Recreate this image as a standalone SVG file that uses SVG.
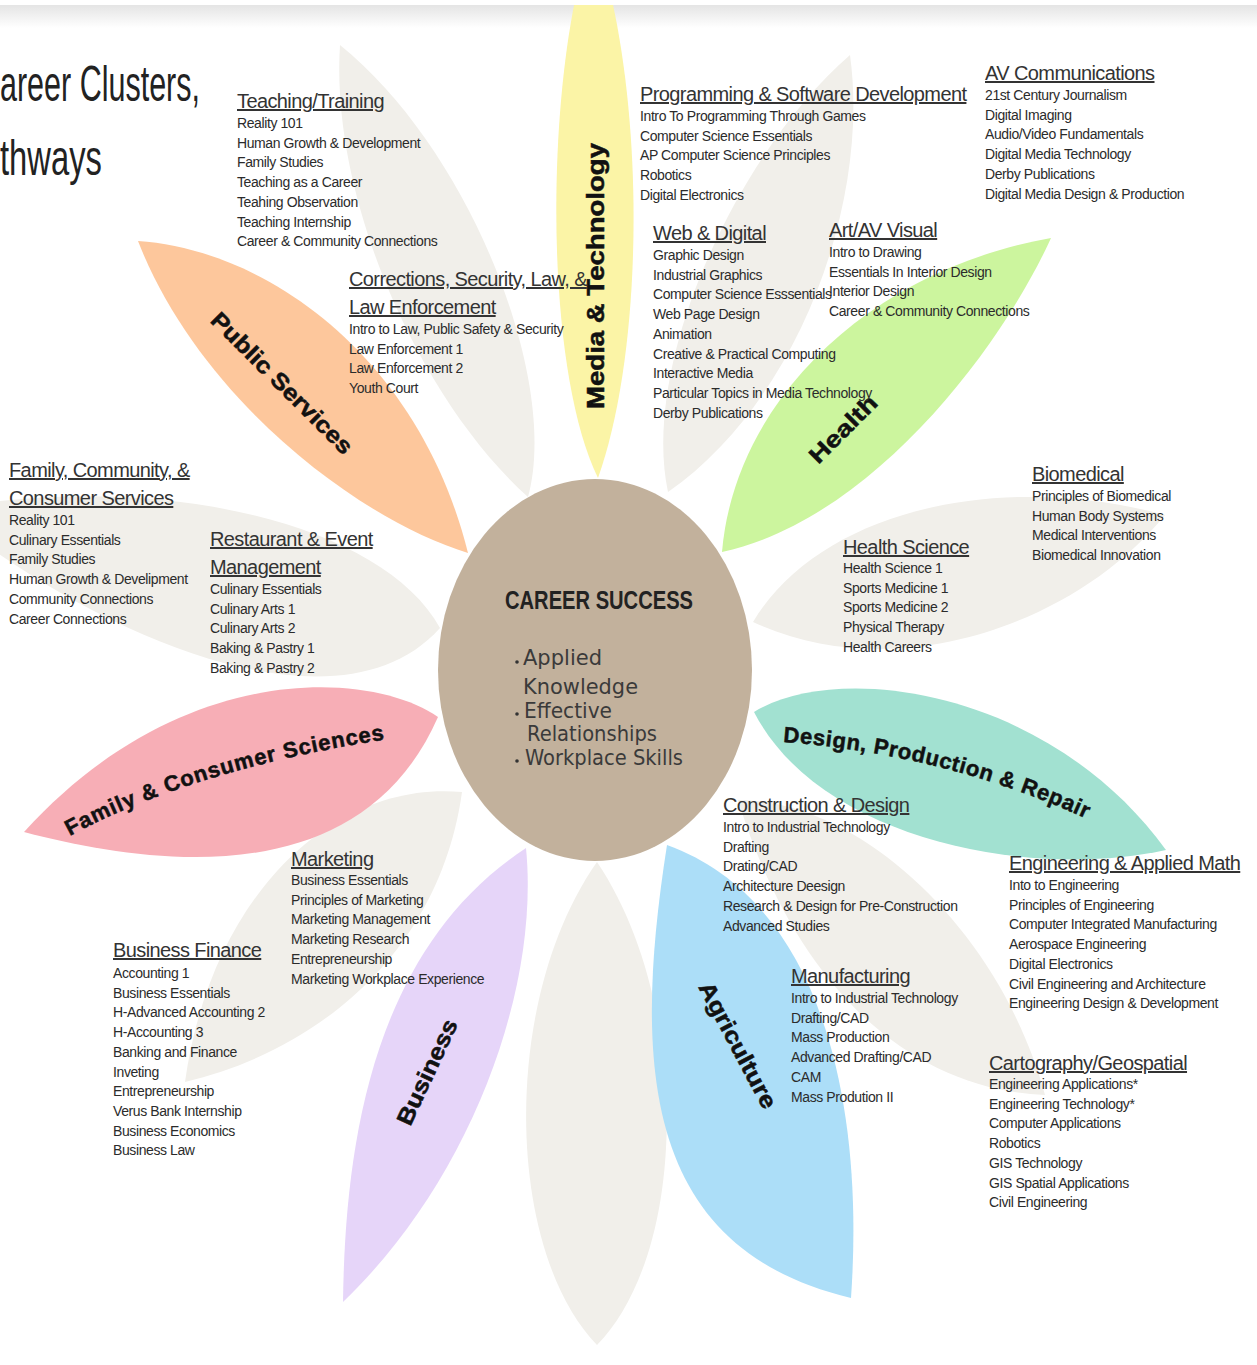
<svg xmlns="http://www.w3.org/2000/svg" width="1257" height="1365" viewBox="0 0 1257 1365">
<defs>
<linearGradient id="topg" x1="0" y1="0" x2="0" y2="1">
<stop offset="0" stop-color="#e3e3e3"/>
<stop offset="1" stop-color="#ffffff"/>
</linearGradient>
<path id="pFam" d="M70,836 Q195,768 395,738"/>
<path id="pDes" d="M783,742 Q955,755 1102,826"/>
<style>
.g{fill:#f1efea}
.h{font-family:"Liberation Sans",Arial,sans-serif;font-size:20px;letter-spacing:-0.6px;fill:#333;text-decoration:underline}
.i{font-family:"Liberation Sans",Arial,sans-serif;font-size:14px;letter-spacing:-0.4px;fill:#2b2b2b}
.lab{font-family:"Liberation Sans",Arial,sans-serif;font-size:23px;font-weight:bold;fill:#111;stroke:#111;stroke-width:0.5}
.ct{font-family:"DejaVu Sans","Liberation Sans",sans-serif;font-size:22px;fill:#3a3a3a}
.title{font-family:"Liberation Sans",Arial,sans-serif;font-size:50px;fill:#222}
</style>
</defs>
<rect width="1257" height="1365" fill="#ffffff"/>
<rect x="0" y="4" width="1257" height="24" fill="url(#topg)"/>

<g id="petals">
<path id="gray-top-left" class="g" d="M340,45 C330,200 420,400 528,497 C560,380 470,150 340,45 Z"/>
<path id="gray-top-right" class="g" d="M668,492 C640,360 740,150 850,55 C870,200 800,400 668,492 Z"/>
<path id="gray-right" class="g" d="M753,622 C820,510 1000,470 1165,515 C1080,620 900,690 753,622 Z"/>
<path id="gray-lower-right" class="g" d="M738,800 C860,800 1000,930 1045,1095 C920,1090 800,1000 738,800 Z"/>
<path id="gray-bottom" class="g" d="M597,862 C500,1000 505,1250 597,1345 C690,1250 690,1000 597,862 Z"/>
<path id="gray-lower-left" class="g" d="M462,792 C330,780 210,900 185,1082 C320,1050 440,950 462,792 Z"/>
<path id="gray-left" class="g" d="M440,628 C380,520 150,470 -60,510 C100,640 340,740 440,628 Z"/>
<path id="petal-media" fill="#fbf4a6" d="M598,478 C550,380 545,150 575,0 L612,0 C645,150 640,360 598,478 Z"/>
<path id="petal-public" fill="#fdc79c" d="M138,241 C270,250 420,360 468,553 C360,520 200,400 138,241 Z"/>
<path id="petal-health" fill="#ccf59e" d="M722,552 C735,400 870,270 1051,238 C1000,350 870,520 722,552 Z"/>
<path id="petal-design" fill="#a2e1d1" d="M754,712 C840,660 1050,690 1166,850 C1030,880 820,840 754,712 Z"/>
<path id="petal-agri" fill="#acdef8" d="M667,845 C630,1080 650,1250 851,1298 C865,1100 820,900 667,845 Z"/>
<path id="petal-business" fill="#e6d5f9" d="M526,848 C540,990 470,1180 343,1302 C345,1150 370,950 526,848 Z"/>
<path id="petal-family" fill="#f7aeb6" d="M438,717 C370,670 180,660 24,832 C150,865 360,895 438,717 Z"/>
</g>

<g id="center">
<ellipse cx="595" cy="670" rx="157" ry="191" fill="#c2b19c"/>
<text x="505" y="609" font-family="'Liberation Sans',Arial,sans-serif" font-size="25" font-weight="bold" fill="#222" textLength="188" lengthAdjust="spacingAndGlyphs">CAREER SUCCESS</text>
<circle cx="517" cy="662" r="1.8" fill="#333"/>
<circle cx="517" cy="714" r="1.8" fill="#333"/>
<circle cx="517" cy="761" r="1.8" fill="#333"/>
<text class="ct" x="523" y="665" textLength="79" lengthAdjust="spacingAndGlyphs">Applied</text>
<text class="ct" x="523" y="694" textLength="115" lengthAdjust="spacingAndGlyphs">Knowledge</text>
<text class="ct" x="524" y="718" textLength="88" lengthAdjust="spacingAndGlyphs">Effective</text>
<text class="ct" x="527" y="741" textLength="130" lengthAdjust="spacingAndGlyphs">Relationships</text>
<text class="ct" x="525" y="765" textLength="158" lengthAdjust="spacingAndGlyphs">Workplace Skills</text>
</g>

<g id="petal-labels">
<text class="lab" transform="translate(596,276) rotate(-90)" x="0" y="8" text-anchor="middle" textLength="266" lengthAdjust="spacingAndGlyphs">Media &amp; Technology</text>
<text class="lab" transform="translate(282,383) rotate(45)" x="0" y="8" text-anchor="middle" textLength="190" lengthAdjust="spacingAndGlyphs">Public Services</text>
<text class="lab" transform="translate(843,429) rotate(-45)" x="0" y="8" text-anchor="middle" textLength="86" lengthAdjust="spacingAndGlyphs">Health</text>
<text class="lab" transform="translate(738,1045) rotate(62)" x="0" y="8" text-anchor="middle" textLength="140" lengthAdjust="spacingAndGlyphs">Agriculture</text>
<text class="lab" transform="translate(427,1072) rotate(-65)" x="0" y="8" text-anchor="middle" textLength="114" lengthAdjust="spacingAndGlyphs">Business</text>
<text class="lab" style="font-size:22px;letter-spacing:0.9px"><textPath href="#pFam">Family &amp; Consumer Sciences</textPath></text>
<text class="lab" style="font-size:22px;letter-spacing:0.6px"><textPath href="#pDes">Design, Production &amp; Repair</textPath></text>
</g>

<g id="title">
<text class="title" transform="translate(0,101) scale(0.61,1)" x="0" y="0">areer Clusters,</text>
<text class="title" transform="translate(0,175) scale(0.655,1)" x="0" y="0">thways</text>
</g>

<g id="teaching-training">
<text class="h" x="237" y="108">Teaching/Training</text>
<text class="i" x="237" y="128"><tspan x="237" dy="0">Reality 101</tspan><tspan x="237" dy="19.7">Human Growth &amp; Development</tspan><tspan x="237" dy="19.7">Family Studies</tspan><tspan x="237" dy="19.7">Teaching as a Career</tspan><tspan x="237" dy="19.7">Teahing Observation</tspan><tspan x="237" dy="19.7">Teaching Internship</tspan><tspan x="237" dy="19.7">Career &amp; Community Connections</tspan></text>
</g>

<g id="corrections">
<text class="h" x="349" y="286">Corrections, Security, Law, &amp;</text>
<text class="h" x="349" y="314">Law Enforcement</text>
<text class="i" x="349" y="334"><tspan x="349" dy="0">Intro to Law, Public Safety &amp; Security</tspan><tspan x="349" dy="19.7">Law Enforcement 1</tspan><tspan x="349" dy="19.7">Law Enforcement 2</tspan><tspan x="349" dy="19.7">Youth Court</tspan></text>
</g>

<g id="programming">
<text class="h" x="640" y="101">Programming &amp; Software Development</text>
<text class="i" x="640" y="121"><tspan x="640" dy="0">Intro To Programming Through Games</tspan><tspan x="640" dy="19.7">Computer Science Essentials</tspan><tspan x="640" dy="19.7">AP Computer Science Principles</tspan><tspan x="640" dy="19.7">Robotics</tspan><tspan x="640" dy="19.7">Digital Electronics</tspan></text>
</g>

<g id="av-communications">
<text class="h" x="985" y="80">AV Communications</text>
<text class="i" x="985" y="100"><tspan x="985" dy="0">21st Century Journalism</tspan><tspan x="985" dy="19.7">Digital Imaging</tspan><tspan x="985" dy="19.7">Audio/Video Fundamentals</tspan><tspan x="985" dy="19.7">Digital Media Technology</tspan><tspan x="985" dy="19.7">Derby Publications</tspan><tspan x="985" dy="19.7">Digital Media Design &amp; Production</tspan></text>
</g>

<g id="web-digital">
<text class="h" x="653" y="240">Web &amp; Digital</text>
<text class="i" x="653" y="260"><tspan x="653" dy="0">Graphic Design</tspan><tspan x="653" dy="19.7">Industrial Graphics</tspan><tspan x="653" dy="19.7">Computer Science Esssentials</tspan><tspan x="653" dy="19.7">Web Page Design</tspan><tspan x="653" dy="19.7">Animation</tspan><tspan x="653" dy="19.7">Creative &amp; Practical Computing</tspan><tspan x="653" dy="19.7">Interactive Media</tspan><tspan x="653" dy="19.7">Particular Topics in Media Technology</tspan><tspan x="653" dy="19.7">Derby Publications</tspan></text>
</g>

<g id="art-av-visual">
<text class="h" x="829" y="237">Art/AV Visual</text>
<text class="i" x="829" y="257"><tspan x="829" dy="0">Intro to Drawing</tspan><tspan x="829" dy="19.7">Essentials In Interior Design</tspan><tspan x="829" dy="19.7">Interior Design</tspan><tspan x="829" dy="19.7">Career &amp; Community Connections</tspan></text>
</g>

<g id="family-community">
<text class="h" x="9" y="477">Family, Community, &amp;</text>
<text class="h" x="9" y="505">Consumer Services</text>
<text class="i" x="9" y="525"><tspan x="9" dy="0">Reality 101</tspan><tspan x="9" dy="19.7">Culinary Essentials</tspan><tspan x="9" dy="19.7">Family Studies</tspan><tspan x="9" dy="19.7">Human Growth &amp; Develipment</tspan><tspan x="9" dy="19.7">Community Connections</tspan><tspan x="9" dy="19.7">Career Connections</tspan></text>
</g>

<g id="restaurant">
<text class="h" x="210" y="546">Restaurant &amp; Event</text>
<text class="h" x="210" y="574">Management</text>
<text class="i" x="210" y="594"><tspan x="210" dy="0">Culinary Essentials</tspan><tspan x="210" dy="19.7">Culinary Arts 1</tspan><tspan x="210" dy="19.7">Culinary Arts 2</tspan><tspan x="210" dy="19.7">Baking &amp; Pastry 1</tspan><tspan x="210" dy="19.7">Baking &amp; Pastry 2</tspan></text>
</g>

<g id="health-science">
<text class="h" x="843" y="554">Health Science</text>
<text class="i" x="843" y="573"><tspan x="843" dy="0">Health Science 1</tspan><tspan x="843" dy="19.7">Sports Medicine 1</tspan><tspan x="843" dy="19.7">Sports Medicine 2</tspan><tspan x="843" dy="19.7">Physical Therapy</tspan><tspan x="843" dy="19.7">Health Careers</tspan></text>
</g>

<g id="biomedical">
<text class="h" x="1032" y="481">Biomedical</text>
<text class="i" x="1032" y="501"><tspan x="1032" dy="0">Principles of Biomedical</tspan><tspan x="1032" dy="19.7">Human Body Systems</tspan><tspan x="1032" dy="19.7">Medical Interventions</tspan><tspan x="1032" dy="19.7">Biomedical Innovation</tspan></text>
</g>

<g id="construction">
<text class="h" x="723" y="812">Construction &amp; Design</text>
<text class="i" x="723" y="832"><tspan x="723" dy="0">Intro to Industrial Technology</tspan><tspan x="723" dy="19.7">Drafting</tspan><tspan x="723" dy="19.7">Drating/CAD</tspan><tspan x="723" dy="19.7">Architecture Deesign</tspan><tspan x="723" dy="19.7">Research &amp; Design for Pre-Construction</tspan><tspan x="723" dy="19.7">Advanced Studies</tspan></text>
</g>

<g id="engineering">
<text class="h" x="1009" y="870">Engineering &amp; Applied Math</text>
<text class="i" x="1009" y="890"><tspan x="1009" dy="0">Into to Engineering</tspan><tspan x="1009" dy="19.7">Principles of Engineering</tspan><tspan x="1009" dy="19.7">Computer Integrated Manufacturing</tspan><tspan x="1009" dy="19.7">Aerospace Engineering</tspan><tspan x="1009" dy="19.7">Digital Electronics</tspan><tspan x="1009" dy="19.7">Civil Engineering and Architecture</tspan><tspan x="1009" dy="19.7">Engineering Design &amp; Development</tspan></text>
</g>

<g id="manufacturing">
<text class="h" x="791" y="983">Manufacturing</text>
<text class="i" x="791" y="1003"><tspan x="791" dy="0">Intro to Industrial Technology</tspan><tspan x="791" dy="19.7">Drafting/CAD</tspan><tspan x="791" dy="19.7">Mass Production</tspan><tspan x="791" dy="19.7">Advanced Drafting/CAD</tspan><tspan x="791" dy="19.7">CAM</tspan><tspan x="791" dy="19.7">Mass Prodution II</tspan></text>
</g>

<g id="cartography">
<text class="h" x="989" y="1070">Cartography/Geospatial</text>
<text class="i" x="989" y="1089"><tspan x="989" dy="0">Engineering Applications*</tspan><tspan x="989" dy="19.7">Engineering Technology*</tspan><tspan x="989" dy="19.7">Computer Applications</tspan><tspan x="989" dy="19.7">Robotics</tspan><tspan x="989" dy="19.7">GIS Technology</tspan><tspan x="989" dy="19.7">GIS Spatial Applications</tspan><tspan x="989" dy="19.7">Civil Engineering</tspan></text>
</g>

<g id="marketing">
<text class="h" x="291" y="866">Marketing</text>
<text class="i" x="291" y="885"><tspan x="291" dy="0">Business Essentials</tspan><tspan x="291" dy="19.7">Principles of Marketing</tspan><tspan x="291" dy="19.7">Marketing Management</tspan><tspan x="291" dy="19.7">Marketing Research</tspan><tspan x="291" dy="19.7">Entrepreneurship</tspan><tspan x="291" dy="19.7">Marketing Workplace Experience</tspan></text>
</g>

<g id="business-finance">
<text class="h" x="113" y="957">Business Finance</text>
<text class="i" x="113" y="978"><tspan x="113" dy="0">Accounting 1</tspan><tspan x="113" dy="19.7">Business Essentials</tspan><tspan x="113" dy="19.7">H-Advanced Accounting 2</tspan><tspan x="113" dy="19.7">H-Accounting 3</tspan><tspan x="113" dy="19.7">Banking and Finance</tspan><tspan x="113" dy="19.7">Inveting</tspan><tspan x="113" dy="19.7">Entrepreneurship</tspan><tspan x="113" dy="19.7">Verus Bank Internship</tspan><tspan x="113" dy="19.7">Business Economics</tspan><tspan x="113" dy="19.7">Business Law</tspan></text>
</g>

<rect x="0" y="0" width="1257" height="5" fill="#ffffff"/>
</svg>
